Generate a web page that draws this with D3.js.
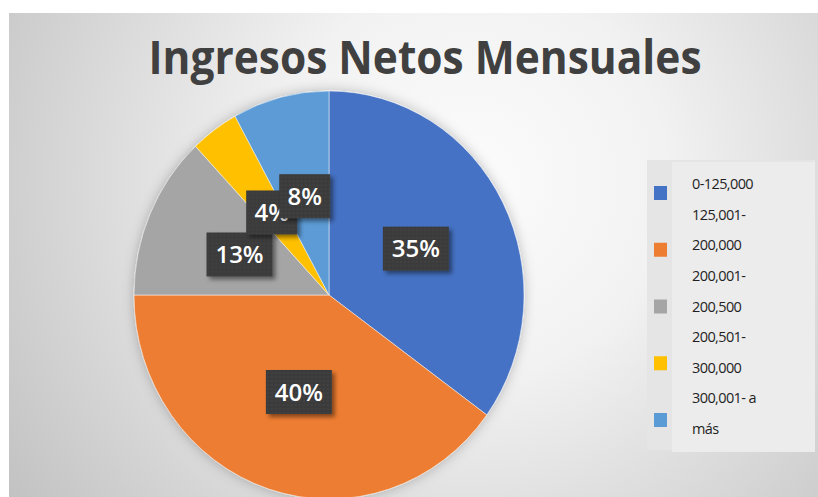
<!DOCTYPE html>
<html><head><meta charset="utf-8">
<script src="https://cdn.jsdelivr.net/npm/d3@7"></script>
<style>html,body{margin:0;padding:0;background:#fff;overflow:hidden}</style>
</head><body>
<svg id="c" width="818" height="497"></svg>
<script>
const title = "Ingresos Netos Mensuales";
const categories = ["0-125,000", "125,001-200,000", "200,001-200,500", "200,501-300,000", "300,001- a más"];
const values = [35, 40, 13, 4, 8];
const colors = ["#4472C4", "#ED7D31", "#A5A5A5", "#FFC000", "#5B9BD5"];
const legendLines = [["0-125,000"], ["125,001-", "200,000"], ["200,001-", "200,500"], ["200,501-", "300,000"], ["300,001- a", "más"]];

const W = 818, H = 497;
const svg = d3.select("#c");
const defs = svg.append("defs");

const bg = defs.append("radialGradient").attr("id","bg")
  .attr("gradientUnits","userSpaceOnUse").attr("cx",470).attr("cy",180).attr("r",560);
bg.append("stop").attr("offset","0").attr("stop-color","#fcfcfc");
bg.append("stop").attr("offset","0.35").attr("stop-color","#f2f2f2");
bg.append("stop").attr("offset","1").attr("stop-color","#c2c2c2");

const sh = defs.append("filter").attr("id","sh").attr("x","-30%").attr("y","-30%").attr("width","160%").attr("height","160%");
sh.append("feDropShadow").attr("dx",3).attr("dy",3).attr("stdDeviation",2).attr("flood-color","#000").attr("flood-opacity",0.45);

const pieSh = defs.append("filter").attr("id","psh").attr("x","-20%").attr("y","-20%").attr("width","140%").attr("height","140%");
pieSh.append("feDropShadow").attr("dx",0).attr("dy",0).attr("stdDeviation",6).attr("flood-color","#000").attr("flood-opacity",0.25);

const pat = defs.append("pattern").attr("id","dots").attr("patternUnits","userSpaceOnUse").attr("width",4).attr("height",4);
pat.append("rect").attr("width",4).attr("height",4).attr("fill","#3b3b3b");
pat.append("circle").attr("cx",1).attr("cy",1).attr("r",0.6).attr("fill","#555");

// chart area
svg.append("rect").attr("x",9).attr("y",13).attr("width",W-9).attr("height",H-13).attr("fill","url(#bg)");

// title
svg.append("text").attr("x",425).attr("y",74).attr("text-anchor","middle")
  .attr("font-family","'Open Sans', sans-serif").attr("font-weight",700).attr("font-size",46)
  .attr("textLength",553).attr("lengthAdjust","spacingAndGlyphs")
  .attr("fill","#404040").text(title);

// pie
const cx = 329, cy = 295, R = 195, sy = 204/195;
const pie = d3.pie().sort(null).value(d => d)(values);
const arc = d3.arc().innerRadius(0).outerRadius(R);
const g = svg.append("g").attr("transform", `translate(${cx},${cy}) scale(1,${sy})`);
g.append("g").attr("filter","url(#psh)").selectAll("path").data(pie).join("path")
  .attr("d", arc).attr("fill", (d,i) => colors[i]).attr("stroke","#fff").attr("stroke-width",0.8).attr("stroke-opacity",0.6);

// labels
const fmt = d3.format(".0%");
const total = d3.sum(values);
const lg = svg.append("g").attr("transform", `translate(${cx},${cy})`);
pie.forEach((d,i) => {
  const [x, y0] = arc.centroid(d);
  const y = y0 * sy;
  const txt = fmt(values[i]/total);
  const w = txt.length === 2 ? 51 : 66, h = 44;
  const lbl = lg.append("g").attr("transform", `translate(${x},${y})`);
  lbl.append("rect").attr("x",-w/2).attr("y",-h/2).attr("width",w).attr("height",h)
    .attr("fill","url(#dots)").attr("filter","url(#sh)");
  lbl.append("text").attr("text-anchor","middle").attr("dy","0.36em")
    .attr("font-family","'Open Sans', sans-serif").attr("font-weight",600).attr("font-size",24)
    .attr("fill","#fff").text(txt);
});

// legend
svg.append("rect").attr("x",647).attr("y",160).attr("width",168).attr("height",290).attr("fill","#e5e5e5");
svg.append("rect").attr("x",672).attr("y",162).attr("width",143).attr("height",290).attr("fill","#ececec");
const leg = svg.append("g");
const markerY = d3.scalePoint().domain(categories).range([193, 420]);
categories.forEach((c,i) => {
  leg.append("rect").attr("x",654).attr("y",markerY(c)-7).attr("width",13).attr("height",14).attr("fill",colors[i]);
});
const allLines = legendLines.flat();
const lineY = d3.scaleLinear().domain([0, allLines.length-1]).range([184, 429]);
allLines.forEach((t,j) => {
  leg.append("text").attr("x",692).attr("y",lineY(j)).attr("dy","0.35em")
    .attr("font-family","'Open Sans', sans-serif").attr("font-size",14.5).attr("letter-spacing",-0.6)
    .attr("fill","#1f1f1f").text(t);
});
</script>
</body></html>
